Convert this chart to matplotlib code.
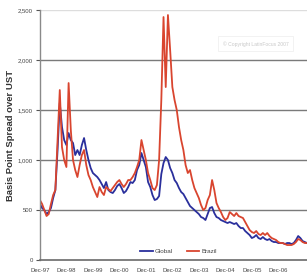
import matplotlib
matplotlib.use('Agg')
import matplotlib.pyplot as plt

plt.rcParams['font.family'] = ['Liberation Sans', 'DejaVu Sans']

# monthly values, index 0 = Dec-97
global_spread = [560, 520, 500, 460, 480, 520, 620, 700, 1100, 1570,
                 1330, 1200, 1150, 1270, 1200, 1170, 1050, 1100, 1050, 1150,
                 1220, 1100, 1000, 920, 870, 850, 830, 800, 760, 720,
                 780, 700, 680, 670, 700, 740, 760, 720, 670, 690,
                 730, 780, 770, 800, 900, 950, 1070, 1000, 930, 780,
                 730, 650, 600, 610, 640, 860, 970, 1030, 1000, 920,
                 870, 800, 770, 720, 680, 660, 620, 580, 540, 520,
                 500, 480, 460, 430, 420, 400, 460, 520, 530, 470,
                 430, 420, 400, 390, 380, 370, 380, 370, 360, 370,
                 340, 320, 320, 290, 270, 250, 220, 230, 250, 220,
                 210, 230, 210, 200, 210, 190, 180, 180, 170, 170,
                 170, 160, 170, 170, 160, 170, 200, 240, 220, 190,
                 180, 170]
brazil_spread = [600, 560, 500, 440, 460, 560, 650, 700, 1200, 1700,
                 1130, 1000, 930, 1770, 1300, 1000, 900, 830, 950, 1050,
                 1100, 950, 850, 800, 730, 680, 630, 730, 680, 650,
                 730, 710, 690, 720, 750, 780, 800, 760, 730, 760,
                 800, 800, 830, 870, 930, 1000, 1200, 1100, 1000, 870,
                 800, 720, 700, 750, 1000, 1600, 2430, 1730, 2450, 2100,
                 1730, 1600, 1500, 1330, 1200, 1100, 950, 870, 900, 800,
                 720, 670, 620, 550, 500, 520, 600, 650, 800, 700,
                 570, 520, 480, 430, 400, 420, 480, 460, 440, 470,
                 440, 430, 420, 380, 340, 300, 280, 270, 290, 260,
                 250, 270, 250, 270, 240, 220, 210, 200, 180, 170,
                 170, 160, 150, 150, 150, 160, 180, 210, 200, 180,
                 170, 170]
months = list(range(len(global_spread)))

tick_pos = [0, 12, 24, 36, 48, 60, 72, 84, 96, 108]
tick_labels = ['Dec-97', 'Dec-98', 'Dec-99', 'Dec-00', 'Dec-01',
               'Dec-02', 'Dec-03', 'Dec-04', 'Dec-05', 'Dec-06']
y_ticks = [0, 500, 1000, 1500, 2000, 2500]
y_labels = ['0', '500', '1,000', '1,500', '2,000', '2,500']

fig = plt.figure(figsize=(3.07, 2.79), dpi=100)
ax = fig.add_axes([0.130, 0.068, 0.870, 0.896])

ax.plot(months, global_spread, color='#2a2f9c', lw=1.3, label='Global')
ax.plot(months, brazil_spread, color='#d9452f', lw=1.3, label='Brazil')

ax.set_xlim(0, 121)
ax.set_ylim(0, 2500)
ax.set_yticks(y_ticks)
ax.set_yticklabels(y_labels)
ax.set_xticks(tick_pos)
ax.set_xticklabels(tick_labels)
ax.tick_params(axis='y', labelsize=4.3, colors='#555555', length=3, width=0.8,
               pad=2)
ax.tick_params(axis='x', labelsize=4.3, colors='#555555', length=0, pad=6)
for lab in ax.get_yticklabels() + ax.get_xticklabels():
    lab.set_color('#444444')

for v in y_ticks[1:-1]:
    ax.axhline(v, color='#7a7a7a', lw=1.0, zorder=0)
ax.axhline(2500, color='#dddddd', lw=1.0, zorder=0)

for s in ['top', 'right']:
    ax.spines[s].set_visible(False)
ax.spines['left'].set_color('#8a8a8a')
ax.spines['bottom'].set_color('#6a6a6a')
ax.spines['left'].set_linewidth(1.0)
ax.spines['bottom'].set_linewidth(1.2)

ax.set_ylabel('Basis Point Spread over UST', fontsize=6.8, fontweight='bold',
              color='#333333', labelpad=2)

ax.legend(loc='lower center', bbox_to_anchor=(0.52, 0.0), ncol=2, frameon=False,
          fontsize=4.5, handlelength=2.0, handletextpad=0.4, columnspacing=2.2,
          labelcolor='#444444')

ax.text(0.93, 0.865, '\u00a9 Copyright LatinFocus 2007', transform=ax.transAxes,
        fontsize=3.6, color='#c8c8c8', ha='right', va='center',
        bbox=dict(boxstyle='square,pad=0.9', fc='none', ec='#f0f0f0', lw=0.6))

fig.savefig('out.png', dpi=100)
